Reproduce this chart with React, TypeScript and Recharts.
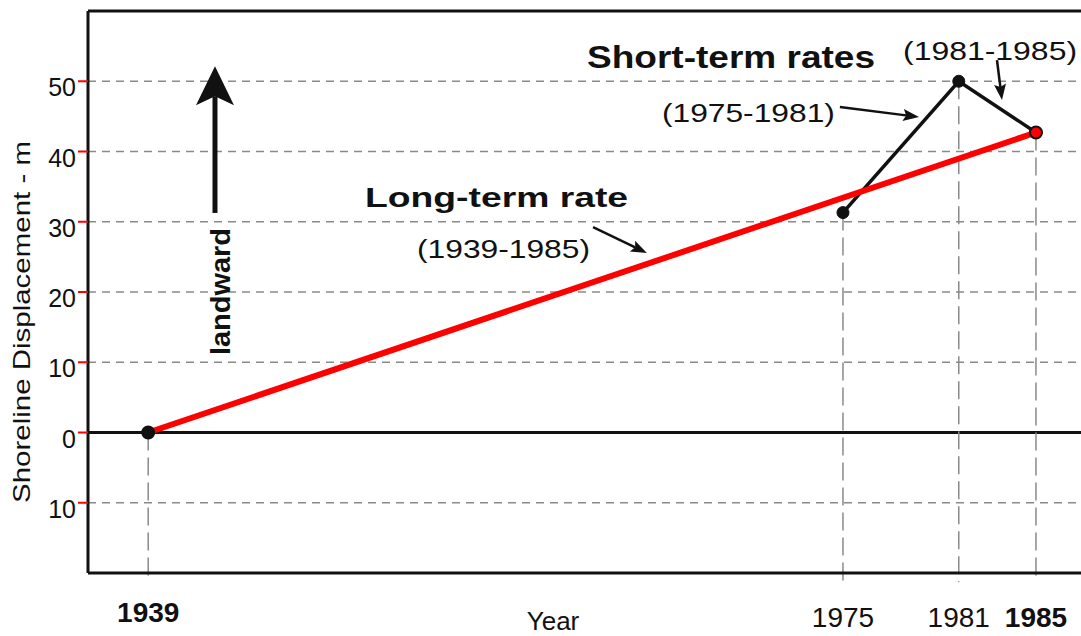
import React from 'react';
import {
  CartesianGrid,
  ComposedChart,
  Line,
  ReferenceDot,
  ReferenceLine,
  XAxis,
  YAxis,
} from 'recharts';

// shoreline position (m, landward positive) at each survey year
const LONG_TERM_YEARS = [1939, 1985];
const LONG_TERM_VALUES = [0, 42.7];
const SHORT_TERM_YEARS = [1975, 1981, 1985];
const SHORT_TERM_VALUES = [31.3, 50, 42.7];
const YEAR_TICKS = [1939, 1975, 1981, 1985];
const DISPLACEMENT_TICKS = [-10, 0, 10, 20, 30, 40, 50];

const FONT = '"Liberation Sans", Arial, Helvetica, sans-serif';
const INK = '#111';
const RED = '#ff0000';
const GRID = '#8a8a8a';
const BOLD_YEARS = [1939, 1985];

const longTerm = LONG_TERM_YEARS.map((year, i) => ({ year, value: LONG_TERM_VALUES[i] }));
const shortTerm = SHORT_TERM_YEARS.map((year, i) => ({ year, value: SHORT_TERM_VALUES[i] }));
const dropPoints = [longTerm[0], ...shortTerm];

function YearTick({ x, y, payload }: any) {
  const v = payload.value;
  return (
    <text
      x={x}
      y={y + (v === 1939 ? 49 : 54)}
      textAnchor="middle"
      fontFamily={FONT}
      fontSize={28}
      fontWeight={BOLD_YEARS.includes(v) ? 700 : 400}
      fill={INK}
    >
      {v}
    </text>
  );
}

function DisplacementTick({ x, y, payload }: any) {
  return (
    <text x={x} y={y + 15} textAnchor="end" fontFamily={FONT} fontSize={25} fill={INK}>
      {Math.abs(payload.value)}
    </text>
  );
}

function arrow(width: number, headLen: number, headHalf: number, notch: number) {
  return (p: any) => {
    const { x1, y1, x2, y2 } = p;
    const len = Math.hypot(x2 - x1, y2 - y1) || 1;
    const ux = (x2 - x1) / len;
    const uy = (y2 - y1) / len;
    const bx = x2 - ux * headLen;
    const by = y2 - uy * headLen;
    const mx = x2 - ux * (headLen - notch);
    const my = y2 - uy * (headLen - notch);
    const pts = [
      [x2, y2],
      [bx - uy * headHalf, by + ux * headHalf],
      [mx, my],
      [bx + uy * headHalf, by - ux * headHalf],
    ]
      .map((q) => q.join(','))
      .join(' ');
    return (
      <g>
        <line x1={x1} y1={y1} x2={mx} y2={my} stroke={INK} strokeWidth={width} />
        <polygon points={pts} fill={INK} />
      </g>
    );
  };
}

function note(text: string, size: number, length: number, bold = false, rotate = false) {
  return (p: any) => (
    <text
      x={p.cx}
      y={p.cy}
      textAnchor="middle"
      fontFamily={FONT}
      fontSize={size}
      fontWeight={bold ? 700 : 400}
      fill={INK}
      textLength={length}
      lengthAdjust="spacingAndGlyphs"
      transform={rotate ? `rotate(-90 ${p.cx} ${p.cy})` : undefined}
    >
      {text}
    </text>
  );
}

const dropLine = (p: any) => (
  <line x1={p.x1} y1={p.y1} x2={p.x2} y2={p.y2} stroke={GRID} strokeWidth={1.5} strokeDasharray="18 7" />
);

const longTermDot = (p: any) => (
  <circle key={p.index} cx={p.cx} cy={p.cy} r={6} fill={p.index === 0 ? INK : RED} stroke={INK} strokeWidth={2} />
);

export default function App() {
  return (
    <div style={{ position: 'absolute', left: 0, top: 0, width: 1081, height: 636, overflow: 'hidden', background: '#fff' }}>
      <ComposedChart width={1095} height={636} margin={{ top: 11, right: 5, bottom: 0, left: 0 }}>
        <CartesianGrid vertical={false} stroke={GRID} strokeWidth={1.5} strokeDasharray="8 6" />
        <XAxis
          dataKey="year"
          type="number"
          domain={[1935.88, 1987.8]}
          allowDataOverflow
          ticks={YEAR_TICKS}
          interval={0}
          tick={YearTick}
          tickLine={false}
          tickSize={0}
          tickMargin={0}
          height={63}
          axisLine={{ stroke: INK, strokeWidth: 3 }}
          label={(p: any) => (
            <text
              x={(p.viewBox?.x ?? 88) + (p.viewBox?.width ?? 1002) / 2 - 36}
              y={(p.viewBox?.y ?? 573) + 57}
              textAnchor="middle"
              fontFamily={FONT}
              fontSize={26}
              fill={INK}
            >
              Year
            </text>
          )}
        />
        <YAxis
          type="number"
          domain={[-20, 60]}
          allowDataOverflow
          ticks={DISPLACEMENT_TICKS}
          interval={0}
          width={88}
          tick={DisplacementTick}
          tickSize={10}
          tickMargin={2}
          tickLine={{ stroke: RED, strokeWidth: 2 }}
          axisLine={{ stroke: INK, strokeWidth: 3 }}
          label={() => (
            <text
              x={30}
              y={322}
              transform="rotate(-90 30 322)"
              textAnchor="middle"
              fontFamily={FONT}
              fontSize={24}
              fill={INK}
              textLength={362}
              lengthAdjust="spacingAndGlyphs"
            >
              Shoreline Displacement - m
            </text>
          )}
        />

        <ReferenceLine y={60} stroke={INK} strokeWidth={3} />
        <ReferenceLine y={0} stroke={INK} strokeWidth={3} />
        {dropPoints.map((d) => (
          <ReferenceLine
            key={d.year}
            segment={[
              { x: d.year, y: d.value },
              { x: d.year, y: -21.3 },
            ]}
            ifOverflow="visible"
            shape={dropLine}
          />
        ))}

        <Line
          data={shortTerm}
          dataKey="value"
          type="linear"
          stroke={INK}
          strokeWidth={3.5}
          dot={{ r: 6, fill: INK, stroke: INK, strokeWidth: 1 }}
          activeDot={false}
          isAnimationActive={false}
        />
        <Line
          data={longTerm}
          dataKey="value"
          type="linear"
          stroke={RED}
          strokeWidth={6}
          dot={longTermDot}
          activeDot={false}
          isAnimationActive={false}
        />

        {/* landward arrow and annotations */}
        <ReferenceLine
          segment={[
            { x: 1942.46, y: 31.25 },
            { x: 1942.46, y: 52.14 },
          ]}
          ifOverflow="visible"
          shape={arrow(5, 39, 19, 9)}
        />
        <ReferenceDot x={1943.24} y={20.07} r={0} ifOverflow="visible" shape={note('landward', 28, 127, true, true)} />
        <ReferenceDot x={1969.2} y={51.89} r={0} ifOverflow="visible" shape={note('Short-term rates', 31, 288, true)} />
        <ReferenceDot x={1982.62} y={53.02} r={0} ifOverflow="visible" shape={note('(1981-1985)', 26, 174)} />
        <ReferenceDot x={1970.1} y={44.2} r={0} ifOverflow="visible" shape={note('(1975-1981)', 26, 173)} />
        <ReferenceDot x={1957.05} y={32.1} r={0} ifOverflow="visible" shape={note('Long-term rate', 28, 263, true)} />
        <ReferenceDot x={1957.41} y={24.84} r={0} ifOverflow="visible" shape={note('(1939-1985)', 26, 173)} />
        <ReferenceLine
          segment={[
            { x: 1974.84, y: 46.33 },
            { x: 1978.94, y: 44.91 },
          ]}
          ifOverflow="visible"
          shape={arrow(2.5, 16, 6, 3)}
        />
        <ReferenceLine
          segment={[
            { x: 1982.98, y: 53.02 },
            { x: 1983.24, y: 47.33 },
          ]}
          ifOverflow="visible"
          shape={arrow(2.5, 16, 6, 3)}
        />
        <ReferenceLine
          segment={[
            { x: 1962.05, y: 29.25 },
            { x: 1964.84, y: 25.55 },
          ]}
          ifOverflow="visible"
          shape={arrow(2.5, 16, 6, 3)}
        />
      </ComposedChart>
    </div>
  );
}
